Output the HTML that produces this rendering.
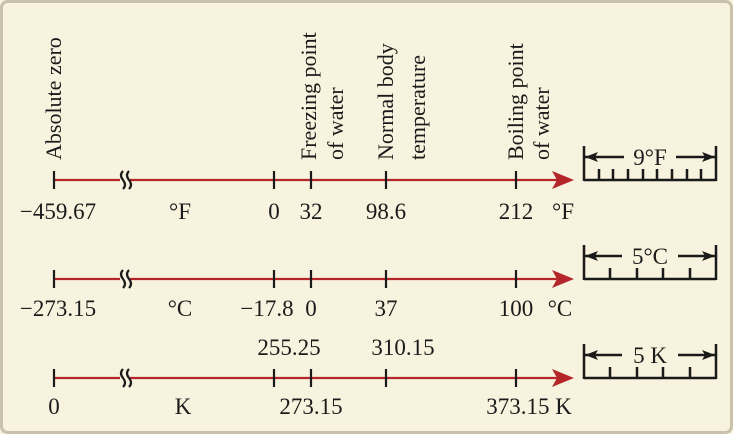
<!DOCTYPE html>
<html><head><meta charset="utf-8"><style>
html,body{margin:0;padding:0;background:#f8f3de;}
svg{display:block}
text{font-family:"Liberation Serif","DejaVu Serif","Noto Serif CJK SC",serif;font-size:23px;fill:#1a1a1a}
text.r{font-size:22px}
</style></head><body>
<svg width="733" height="434" viewBox="0 0 733 434" xmlns="http://www.w3.org/2000/svg">
<rect x="1.5" y="1.5" width="730" height="431" rx="6" fill="#f8f3de" stroke="#c9c1aa" stroke-width="3"/>
<g stroke="#b5262b" stroke-width="2.2">
<line x1="54" y1="180" x2="120" y2="180"/><line x1="130" y1="180" x2="560" y2="180"/>
<line x1="54" y1="279" x2="120" y2="279"/><line x1="130" y1="279" x2="560" y2="279"/>
<line x1="54" y1="378" x2="120" y2="378"/><line x1="130" y1="378" x2="560" y2="378"/>
</g>
<g fill="#b5262b">
<path d="M574 180 L552 171 L557 180 L552 189Z"/>
<path d="M574 279 L552 270 L557 279 L552 288Z"/>
<path d="M574 378 L552 369 L557 378 L552 387Z"/>
</g>
<g stroke="#1a1a1a" stroke-width="2.2" fill="none">
<path d="M123 171 q-4 4 0 9 q4 5 0 9 M129 171 q-4 4 0 9 q4 5 0 9"/>
<path d="M123 270 q-4 4 0 9 q4 5 0 9 M129 270 q-4 4 0 9 q4 5 0 9"/>
<path d="M123 369 q-4 4 0 9 q4 5 0 9 M129 369 q-4 4 0 9 q4 5 0 9"/>
<path d="M54 171v18M274 171v18M311 171v18M386 171v18M516 171v18"/>
<path d="M54 270v18M274 270v18M311 270v18M386 270v18M516 270v18"/>
<path d="M54 369v18M274 369v18M311 369v18M386 369v18M516 369v18"/>
</g>
<g>
<text class="r" transform="translate(61,160) rotate(-90)">Absolute zero</text>
<text class="r" transform="translate(316,160) rotate(-90)">Freezing point</text>
<text class="r" transform="translate(343,160) rotate(-90)">of water</text>
<text class="r" transform="translate(393,160) rotate(-90)">Normal body</text>
<text class="r" transform="translate(425,160) rotate(-90)">temperature</text>
<text class="r" transform="translate(523,160) rotate(-90)">Boiling point</text>
<text class="r" transform="translate(549,160) rotate(-90)">of water</text>
</g>
<g text-anchor="middle">
<text x="58" y="219">−459.67</text><text x="180" y="219">°F</text><text x="274" y="219">0</text>
<text x="311" y="219">32</text><text x="386" y="219">98.6</text><text x="516" y="219">212</text><text x="563" y="219">°F</text>
<text x="58" y="316">−273.15</text><text x="180" y="316">°C</text><text x="267" y="316">−17.8</text>
<text x="311" y="316">0</text><text x="386" y="316">37</text><text x="516" y="316">100</text><text x="560" y="316">°C</text>
<text x="289" y="355">255.25</text><text x="403" y="355">310.15</text>
<text x="54" y="414">0</text><text x="183" y="414">K</text><text x="311" y="414">273.15</text><text x="529" y="414">373.15 K</text>
<text x="650" y="165">9°F</text><text x="650" y="264">5°C</text><text x="650" y="363">5 K</text>
</g>
<g stroke="#1a1a1a" stroke-width="2.5" fill="none">
<path d="M584 146v35M716 146v35M584 180h132M584 157h40M676 157h40"/>
<path d="M599 169v11M613 169v11M628 169v11M643 169v11M657 169v11M672 169v11M687 169v11M701 169v11"/>
<path d="M584 245v35M716 245v35M584 279h132M584 256h38M678 256h38"/>
<path d="M610 268v11M637 268v11M663 268v11M690 268v11"/>
<path d="M584 344v35M716 344v35M584 378h132M584 355h38M678 355h38"/>
<path d="M610 367v11M637 367v11M663 367v11M690 367v11"/>
</g>
<g fill="#1a1a1a">
<path d="M585 157l13-5-3 5 3 5z"/><path d="M715 157l-13-5 3 5-3 5z"/>
<path d="M585 256l13-5-3 5 3 5z"/><path d="M715 256l-13-5 3 5-3 5z"/>
<path d="M585 355l13-5-3 5 3 5z"/><path d="M715 355l-13-5 3 5-3 5z"/>
</g>
</svg>
</body></html>
